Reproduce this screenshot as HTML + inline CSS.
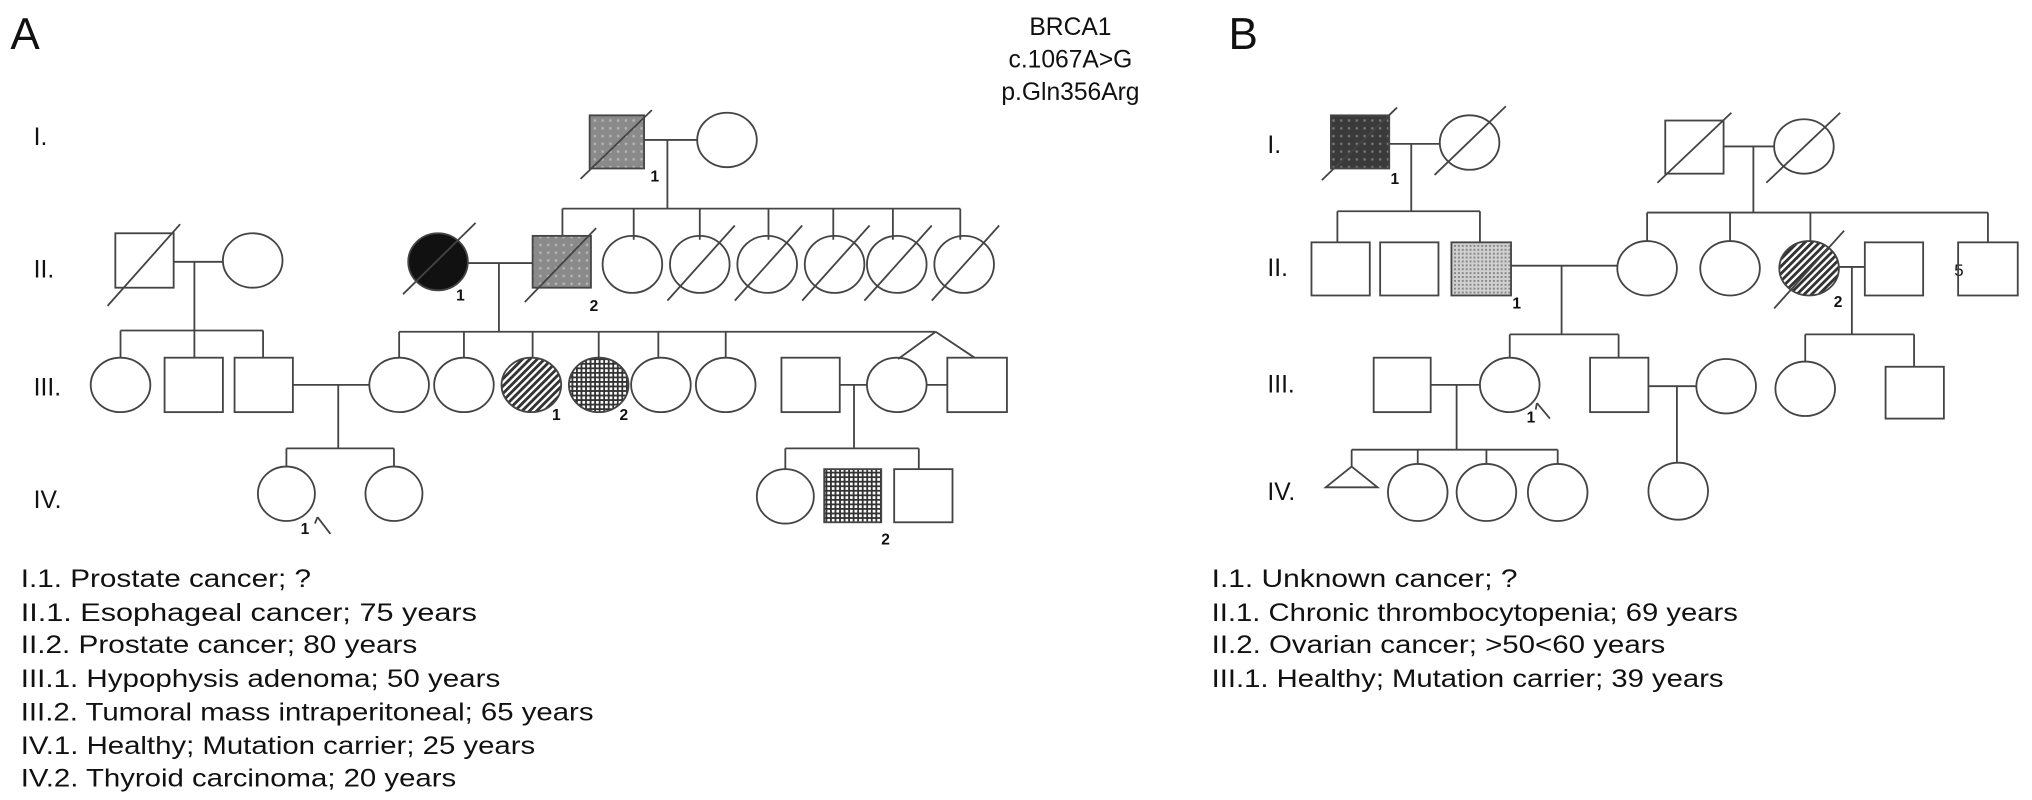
<!DOCTYPE html>
<html><head><meta charset="utf-8"><style>html,body{margin:0;padding:0;background:#fff}svg{display:block}</style></head>
<body>
<svg width="2032" height="800" viewBox="0 0 1568 617.3" preserveAspectRatio="none" xmlns="http://www.w3.org/2000/svg" font-family="Liberation Sans, sans-serif">
<defs>
<pattern id="dot" width="6" height="6" patternUnits="userSpaceOnUse"><rect width="6" height="6" fill="#8a8a8a"/><circle cx="3" cy="3" r="1" fill="#b5b5b5"/></pattern>
<pattern id="dark" width="6" height="6" patternUnits="userSpaceOnUse"><rect width="6" height="6" fill="#3a3a3a"/><circle cx="3" cy="3" r="1" fill="#777"/></pattern>
<pattern id="hatch" width="4" height="4" patternUnits="userSpaceOnUse" patternTransform="rotate(45)"><rect width="4" height="4" fill="#fff"/><rect width="2.2" height="4" fill="#333"/></pattern>
<pattern id="check" width="3.5" height="3.5" patternUnits="userSpaceOnUse"><rect width="3.5" height="3.5" fill="#fff"/><rect width="3.5" height="1.4" fill="#333"/><rect width="1.4" height="3.5" fill="#333"/></pattern>
<pattern id="light" width="3" height="3" patternUnits="userSpaceOnUse"><rect width="3" height="3" fill="#d0d0d0"/><rect width="1.5" height="1.5" fill="#888"/></pattern>
</defs>
<g fill="#111">
<text x="8" y="38" font-size="34">A</text>
<text x="948" y="38" font-size="34">B</text>
<g font-size="19" text-anchor="middle"><text x="826" y="27">BRCA1</text><text x="826" y="52">c.1067A&gt;G</text><text x="826" y="77">p.Gln356Arg</text></g>
<g font-size="19"><text x="26" y="112">I.</text><text x="26" y="214">II.</text><text x="26" y="305">III.</text><text x="26" y="392">IV.</text>
<text x="978" y="118">I.</text><text x="978" y="213">II.</text><text x="978" y="303">III.</text><text x="978" y="386">IV.</text></g>
<g font-size="19"><text x="16" y="453" textLength="224" lengthAdjust="spacingAndGlyphs">I.1. Prostate cancer; ?</text>
<text x="16" y="479" textLength="352" lengthAdjust="spacingAndGlyphs">II.1. Esophageal cancer; 75 years</text>
<text x="16" y="504" textLength="306" lengthAdjust="spacingAndGlyphs">II.2. Prostate cancer; 80 years</text>
<text x="16" y="530" textLength="370" lengthAdjust="spacingAndGlyphs">III.1. Hypophysis adenoma; 50 years</text>
<text x="16" y="556" textLength="442" lengthAdjust="spacingAndGlyphs">III.2. Tumoral mass intraperitoneal; 65 years</text>
<text x="16" y="582" textLength="397" lengthAdjust="spacingAndGlyphs">IV.1. Healthy; Mutation carrier; 25 years</text>
<text x="16" y="607" textLength="336" lengthAdjust="spacingAndGlyphs">IV.2. Thyroid carcinoma; 20 years</text>
<text x="935" y="453" textLength="236" lengthAdjust="spacingAndGlyphs">I.1. Unknown cancer; ?</text>
<text x="935" y="479" textLength="406" lengthAdjust="spacingAndGlyphs">II.1. Chronic thrombocytopenia; 69 years</text>
<text x="935" y="504" textLength="350" lengthAdjust="spacingAndGlyphs">II.2. Ovarian cancer; &gt;50&lt;60 years</text>
<text x="935" y="530" textLength="395" lengthAdjust="spacingAndGlyphs">III.1. Healthy; Mutation carrier; 39 years</text></g>
<g font-size="12" font-weight="bold"><text x="502" y="140">1</text><text x="352" y="232">1</text><text x="455" y="240">2</text><text x="426" y="324">1</text><text x="478" y="324">2</text><text x="232" y="412">1</text><text x="680" y="420">2</text>
<text x="1073" y="142">1</text><text x="1167" y="238">1</text><text x="1415" y="237">2</text><text x="1178" y="326">1</text><text x="1508" y="213" font-weight="normal" font-size="13">5</text></g>
</g>
<g stroke="#444" stroke-width="1.4" fill="none">
<!-- A gen I -->
<rect x="455" y="89" width="42" height="41" fill="url(#dot)"/><line x1="448" y1="138" x2="503" y2="85"/>
<line x1="497" y1="108" x2="538" y2="108"/><ellipse cx="561" cy="108" rx="23" ry="21" fill="#fff"/>
<line x1="515" y1="108" x2="515" y2="161"/><line x1="434" y1="161" x2="741" y2="161"/>
<line x1="434" y1="161" x2="434" y2="182"/><line x1="489" y1="161" x2="489" y2="185"/><line x1="540" y1="161" x2="540" y2="185"/><line x1="593" y1="161" x2="593" y2="185"/><line x1="643" y1="161" x2="643" y2="185"/><line x1="689" y1="161" x2="689" y2="185"/><line x1="741" y1="161" x2="741" y2="185"/>
<!-- A gen II -->
<rect x="89" y="180" width="45" height="42"/><line x1="83" y1="236" x2="139" y2="173"/>
<line x1="134" y1="202" x2="172" y2="202"/><ellipse cx="195" cy="201" rx="23" ry="21"/>
<line x1="150" y1="202" x2="150" y2="255"/><line x1="93" y1="255" x2="203" y2="255"/>
<ellipse cx="338" cy="202" rx="23" ry="22" fill="#111"/><line x1="311" y1="227" x2="367" y2="172"/>
<line x1="361" y1="203" x2="411" y2="203"/><rect x="411" y="182" width="45" height="40" fill="url(#dot)"/><line x1="405" y1="233" x2="460" y2="176"/>
<line x1="385" y1="203" x2="385" y2="256"/>
<ellipse cx="488" cy="204" rx="23" ry="22"/>
<g><ellipse cx="540" cy="204" rx="23" ry="22"/><line x1="515" y1="232" x2="567" y2="174"/></g>
<g><ellipse cx="592" cy="204" rx="23" ry="22"/><line x1="567" y1="232" x2="619" y2="174"/></g>
<g><ellipse cx="644" cy="204" rx="23" ry="22"/><line x1="619" y1="232" x2="671" y2="174"/></g>
<g><ellipse cx="692" cy="204" rx="23" ry="22"/><line x1="667" y1="232" x2="719" y2="174"/></g>
<g><ellipse cx="744" cy="204" rx="23" ry="22"/><line x1="719" y1="232" x2="771" y2="174"/></g>
<!-- A gen III -->
<line x1="93" y1="255" x2="93" y2="276"/><line x1="150" y1="255" x2="150" y2="276"/><line x1="203" y1="255" x2="203" y2="276"/>
<ellipse cx="93" cy="297" rx="23" ry="21"/><rect x="127" y="276" width="45" height="42"/><rect x="181" y="276" width="45" height="42"/>
<line x1="226" y1="297" x2="285" y2="297"/><line x1="261" y1="297" x2="261" y2="346"/><line x1="221" y1="346" x2="304" y2="346"/><line x1="221" y1="346" x2="221" y2="360"/><line x1="304" y1="346" x2="304" y2="360"/>
<line x1="308" y1="256" x2="722" y2="256"/>
<line x1="308" y1="256" x2="308" y2="276"/><line x1="358" y1="256" x2="358" y2="276"/><line x1="411" y1="256" x2="411" y2="276"/><line x1="462" y1="256" x2="462" y2="276"/><line x1="508" y1="256" x2="508" y2="276"/><line x1="560" y1="256" x2="560" y2="276"/>
<ellipse cx="308" cy="297" rx="23" ry="21"/><ellipse cx="358" cy="297" rx="23" ry="21"/>
<ellipse cx="410" cy="297" rx="23" ry="21" fill="url(#hatch)"/><ellipse cx="462" cy="297" rx="23" ry="21" fill="url(#check)"/>
<ellipse cx="510" cy="297" rx="23" ry="21"/><ellipse cx="560" cy="297" rx="23" ry="21"/>
<line x1="722" y1="256" x2="693" y2="277"/><line x1="722" y1="256" x2="752" y2="276"/>
<rect x="603" y="276" width="45" height="42"/><line x1="648" y1="297" x2="669" y2="297"/><ellipse cx="692" cy="297" rx="23" ry="21"/>
<line x1="715" y1="297" x2="731" y2="297"/><rect x="731" y="276" width="46" height="42"/>
<line x1="659" y1="297" x2="659" y2="346"/><line x1="606" y1="346" x2="709" y2="346"/><line x1="606" y1="346" x2="606" y2="362"/><line x1="709" y1="346" x2="709" y2="362"/>
<!-- A gen IV -->
<ellipse cx="221" cy="381" rx="22" ry="21"/><ellipse cx="304" cy="381" rx="22" ry="21"/>
<line x1="255" y1="412" x2="245" y2="399"/><line x1="245" y1="399" x2="243" y2="404"/>
<ellipse cx="606" cy="383" rx="22" ry="21"/><rect x="636" y="362" width="44" height="41" fill="url(#check)"/><rect x="690" y="362" width="45" height="41"/>
<!-- B gen I -->
<rect x="1027" y="89" width="45" height="41" fill="url(#dark)"/><line x1="1020" y1="139" x2="1078" y2="83"/>
<line x1="1072" y1="111" x2="1111" y2="111"/><ellipse cx="1134" cy="110" rx="23" ry="21"/><line x1="1107" y1="135" x2="1162" y2="82"/>
<line x1="1089" y1="111" x2="1089" y2="163"/><line x1="1032" y1="163" x2="1142" y2="163"/>
<line x1="1032" y1="163" x2="1032" y2="187"/><line x1="1142" y1="163" x2="1142" y2="187"/>
<rect x="1285" y="93" width="45" height="41"/><line x1="1279" y1="141" x2="1336" y2="87"/>
<line x1="1330" y1="113" x2="1369" y2="113"/><ellipse cx="1392" cy="113" rx="23" ry="21"/><line x1="1363" y1="141" x2="1420" y2="87"/>
<line x1="1353" y1="113" x2="1353" y2="164"/><line x1="1271" y1="164" x2="1534" y2="164"/>
<line x1="1271" y1="164" x2="1271" y2="186"/><line x1="1335" y1="164" x2="1335" y2="186"/><line x1="1397" y1="164" x2="1397" y2="186"/><line x1="1534" y1="164" x2="1534" y2="187"/>
<!-- B gen II -->
<rect x="1012" y="187" width="45" height="41"/><rect x="1065" y="187" width="45" height="41"/><rect x="1120" y="187" width="46" height="41" fill="url(#light)"/>
<line x1="1166" y1="205" x2="1248" y2="205"/><line x1="1205" y1="205" x2="1205" y2="258"/>
<ellipse cx="1271" cy="207" rx="23" ry="21"/><ellipse cx="1335" cy="207" rx="23" ry="21"/>
<ellipse cx="1396" cy="207" rx="23" ry="21" fill="url(#hatch)"/><line x1="1369" y1="238" x2="1423" y2="178"/>
<line x1="1419" y1="206" x2="1439" y2="206"/><rect x="1439" y="187" width="45" height="41"/><line x1="1429" y1="206" x2="1429" y2="258"/>
<rect x="1511" y="187" width="46" height="41"/>
<!-- B gen III -->
<line x1="1165" y1="258" x2="1249" y2="258"/><line x1="1165" y1="258" x2="1165" y2="276"/><line x1="1249" y1="258" x2="1249" y2="276"/>
<rect x="1060" y="276" width="44" height="42"/><line x1="1104" y1="297" x2="1142" y2="297"/><ellipse cx="1165" cy="297" rx="23" ry="21"/>
<line x1="1196" y1="323" x2="1186" y2="311"/><line x1="1186" y1="311" x2="1185" y2="316"/>
<rect x="1227" y="276" width="45" height="42"/><line x1="1272" y1="298" x2="1309" y2="298"/><ellipse cx="1332" cy="298" rx="23" ry="21"/>
<line x1="1294" y1="298" x2="1294" y2="357"/>
<line x1="1393" y1="258" x2="1477" y2="258"/><line x1="1393" y1="258" x2="1393" y2="279"/><line x1="1477" y1="258" x2="1477" y2="283"/>
<ellipse cx="1393" cy="300" rx="23" ry="21"/><rect x="1455" y="283" width="45" height="40"/>
<!-- B gen IV -->
<line x1="1124" y1="297" x2="1124" y2="347"/><line x1="1043" y1="347" x2="1202" y2="347"/>
<line x1="1043" y1="347" x2="1043" y2="360"/><line x1="1094" y1="347" x2="1094" y2="358"/><line x1="1147" y1="347" x2="1147" y2="358"/><line x1="1202" y1="347" x2="1202" y2="358"/>
<polygon points="1043,360 1063,376 1023,376"/>
<ellipse cx="1094" cy="380" rx="23" ry="22"/><ellipse cx="1147" cy="380" rx="23" ry="22"/><ellipse cx="1202" cy="380" rx="23" ry="22"/>
<ellipse cx="1295" cy="379" rx="23" ry="22"/>
</g>
</svg>
</body></html>
